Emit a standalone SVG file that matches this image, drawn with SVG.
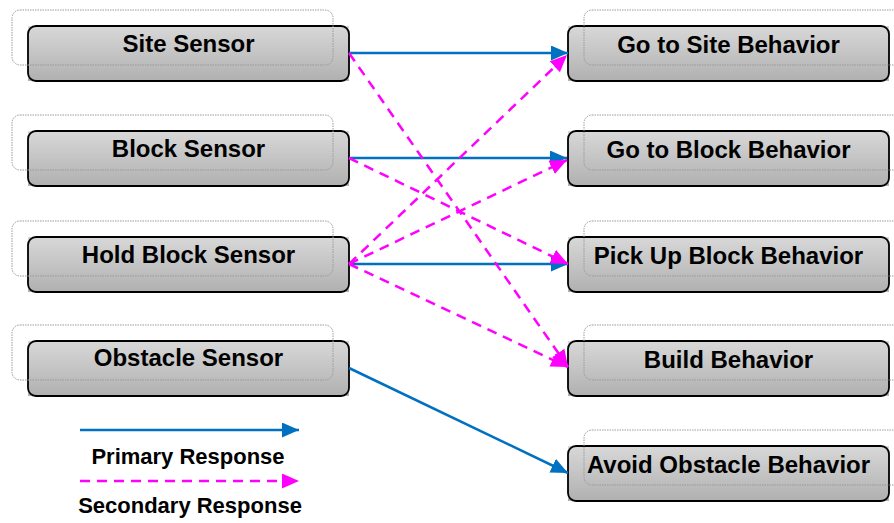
<svg xmlns="http://www.w3.org/2000/svg" width="894" height="523" viewBox="0 0 894 523">
<style>
.bg{fill:url(#g)}
.bd{fill:none;stroke:#000;stroke-width:1.8}
.dt{fill:none;stroke:#9a9a9a;stroke-width:1;stroke-dasharray:1.5,1}
.lbl{font-family:"Liberation Sans",Arial,sans-serif;font-weight:bold;font-size:24px;fill:#000;text-anchor:middle}
.leg{font-family:"Liberation Sans",Arial,sans-serif;font-weight:bold;font-size:22px;fill:#000;text-anchor:middle}
.pri{stroke:#0070c0;stroke-width:2.5;fill:none;marker-end:url(#ab)}
.sec{stroke:#ff00ff;stroke-width:2.5;fill:none;stroke-dasharray:10,7;marker-end:url(#am)}
</style>
<defs>
<linearGradient id="g" x1="0" y1="0" x2="0" y2="1">
<stop offset="0" stop-color="#d8d8d8"/>
<stop offset="1" stop-color="#b0b0b0"/>
</linearGradient>
<marker id="ab" markerUnits="userSpaceOnUse" markerWidth="18" markerHeight="16" refX="17" refY="7.5" orient="auto">
<path d="M0,0 L17,7.5 L0,15 z" fill="#0070c0"/>
</marker>
<marker id="am" markerUnits="userSpaceOnUse" markerWidth="18" markerHeight="16" refX="17" refY="7.5" orient="auto">
<path d="M0,0 L17,7.5 L0,15 z" fill="#ff00ff"/>
</marker>
</defs>
<rect width="894" height="523" fill="#fff"/>

<g id="site-sensor">
<rect class="bg" x="28" y="26" width="321" height="55"/>
<rect class="bd" x="28" y="26" width="321" height="55" rx="8"/>
<rect class="dt" x="12" y="10" width="321" height="55" rx="8"/>
<text class="lbl" x="188.5" y="52">Site Sensor</text>
</g>
<g id="block-sensor">
<rect class="bg" x="28" y="131" width="321" height="55"/>
<rect class="bd" x="28" y="131" width="321" height="55" rx="8"/>
<rect class="dt" x="12" y="115" width="321" height="55" rx="8"/>
<text class="lbl" x="188.5" y="157">Block Sensor</text>
</g>
<g id="hold-block-sensor">
<rect class="bg" x="28" y="237" width="321" height="55"/>
<rect class="bd" x="28" y="237" width="321" height="55" rx="8"/>
<rect class="dt" x="12" y="221" width="321" height="55" rx="8"/>
<text class="lbl" x="188.5" y="263">Hold Block Sensor</text>
</g>
<g id="obstacle-sensor">
<rect class="bg" x="28" y="341" width="321" height="55"/>
<rect class="bd" x="28" y="341" width="321" height="55" rx="8"/>
<rect class="dt" x="12" y="325" width="321" height="55" rx="8"/>
<text class="lbl" x="188.5" y="366">Obstacle Sensor</text>
</g>

<g id="go-to-site">
<rect class="bg" x="568" y="26" width="321" height="55"/>
<rect class="bd" x="568" y="26" width="321" height="55" rx="8"/>
<rect class="dt" x="584" y="10" width="321" height="55" rx="8"/>
<text class="lbl" x="728.5" y="53">Go to Site Behavior</text>
</g>
<g id="go-to-block">
<rect class="bg" x="568" y="131" width="321" height="55"/>
<rect class="bd" x="568" y="131" width="321" height="55" rx="8"/>
<rect class="dt" x="584" y="115" width="321" height="55" rx="8"/>
<text class="lbl" x="728.5" y="158">Go to Block Behavior</text>
</g>
<g id="pick-up-block">
<rect class="bg" x="568" y="237" width="321" height="55"/>
<rect class="bd" x="568" y="237" width="321" height="55" rx="8"/>
<rect class="dt" x="584" y="221" width="321" height="55" rx="8"/>
<text class="lbl" x="728.5" y="264">Pick Up Block Behavior</text>
</g>
<g id="build">
<rect class="bg" x="568" y="341" width="321" height="55"/>
<rect class="bd" x="568" y="341" width="321" height="55" rx="8"/>
<rect class="dt" x="584" y="325" width="321" height="55" rx="8"/>
<text class="lbl" x="728.5" y="368">Build Behavior</text>
</g>
<g id="avoid-obstacle">
<rect class="bg" x="568" y="446" width="321" height="55"/>
<rect class="bd" x="568" y="446" width="321" height="55" rx="8"/>
<rect class="dt" x="584" y="430" width="321" height="55" rx="8"/>
<text class="lbl" x="728.5" y="473">Avoid Obstacle Behavior</text>
</g>

<g id="connectors">
<line class="pri" x1="349" y1="53" x2="568" y2="53"/>
<line class="pri" x1="349" y1="158" x2="567" y2="158"/>
<line class="pri" x1="349" y1="264" x2="568" y2="264"/>
<line class="pri" x1="349" y1="368" x2="568" y2="473"/>
<line class="sec" x1="349" y1="53" x2="568" y2="367"/>
<line class="sec" x1="349" y1="158" x2="568" y2="264"/>
<line class="sec" x1="349" y1="264" x2="567" y2="55"/>
<line class="sec" x1="349" y1="264" x2="567" y2="160"/>
<line class="sec" x1="349" y1="264" x2="568" y2="367"/>
</g>

<g id="legend">
<line class="pri" x1="80" y1="430" x2="299" y2="430"/>
<text class="leg" x="188" y="464">Primary Response</text>
<line class="sec" x1="80" y1="481" x2="299" y2="481"/>
<text class="leg" x="190" y="513">Secondary Response</text>
</g>
</svg>
